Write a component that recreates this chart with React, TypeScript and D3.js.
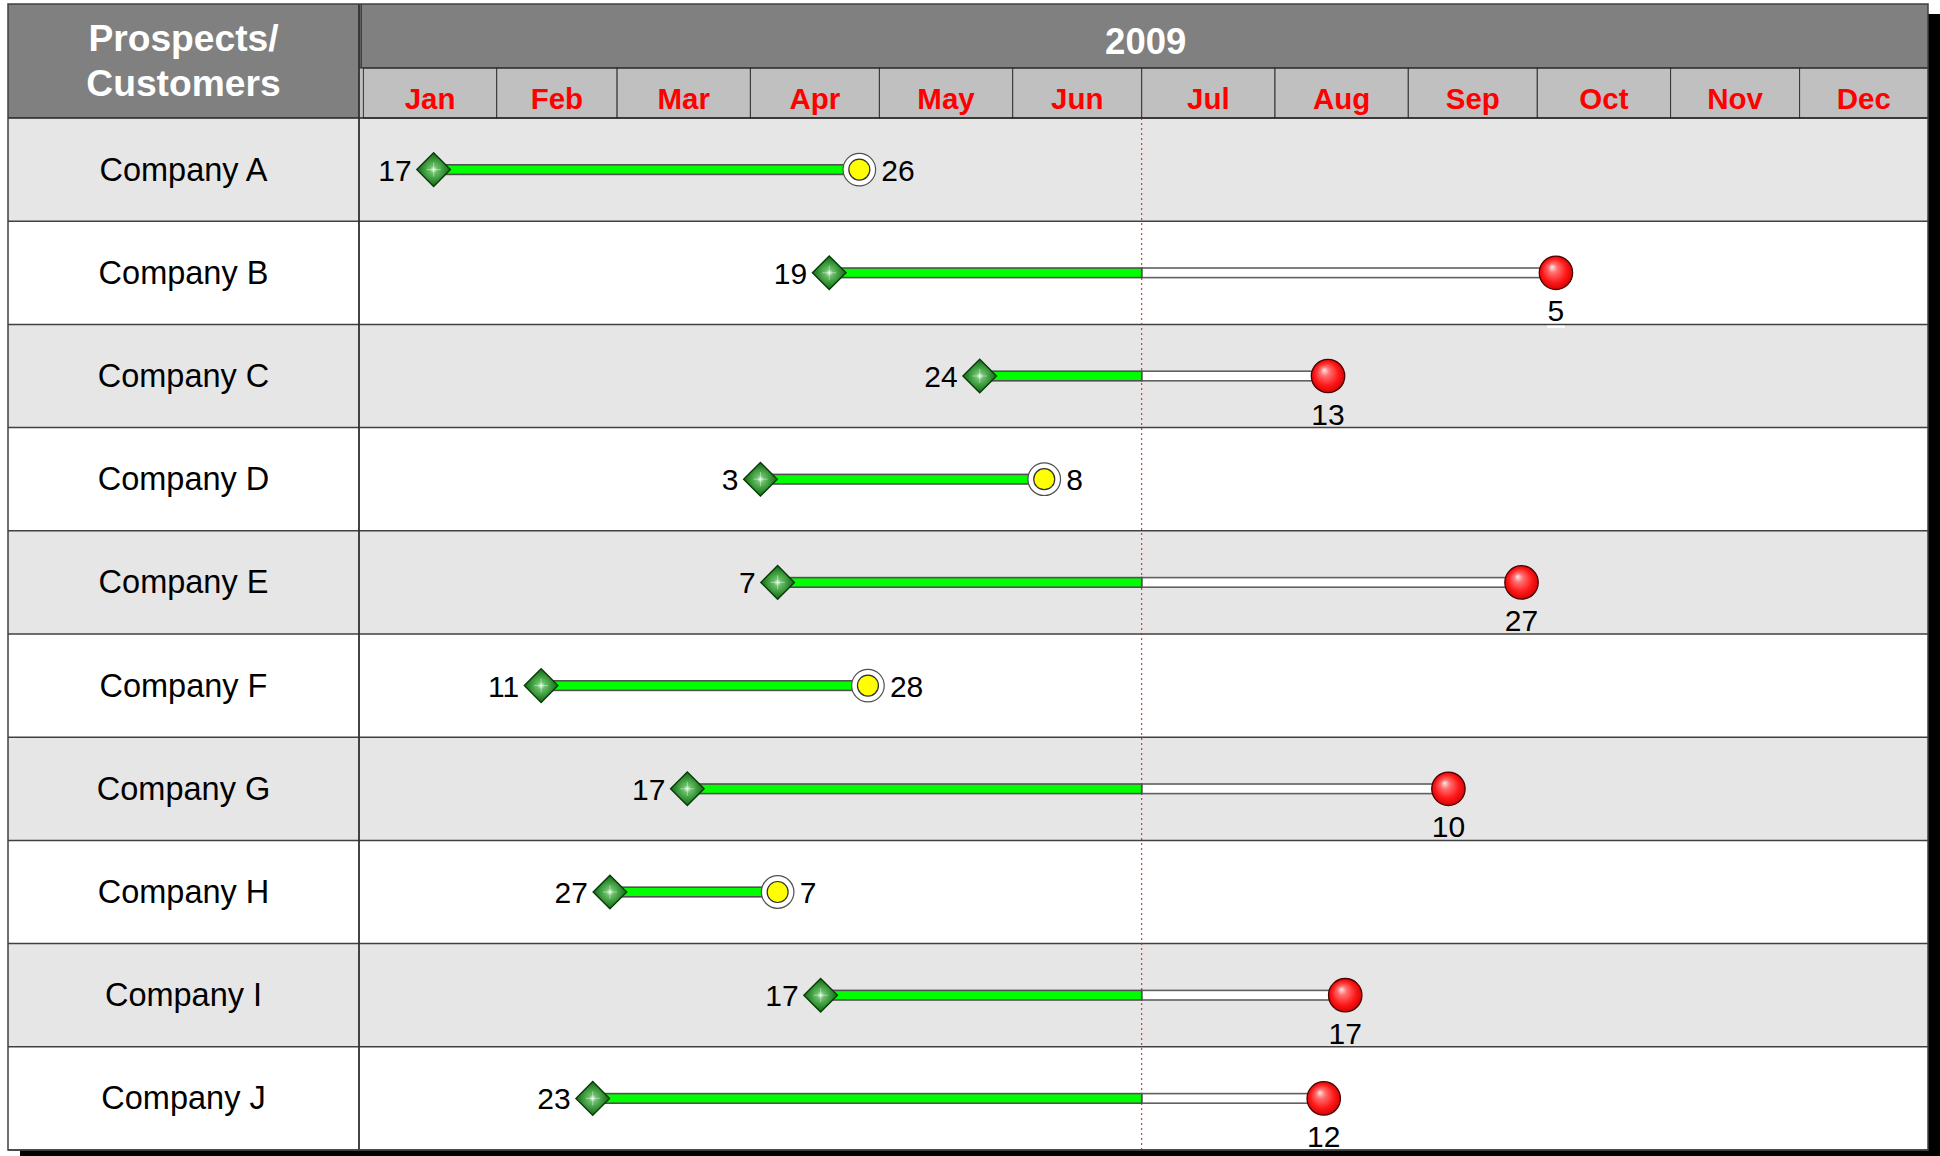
import React from "react";
import * as d3 from "d3";

const YEAR = 2009;
const months = ["Jan", "Feb", "Mar", "Apr", "May", "Jun", "Jul", "Aug", "Sep", "Oct", "Nov", "Dec"];
const companies = ["Company A", "Company B", "Company C", "Company D", "Company E", "Company F", "Company G", "Company H", "Company I", "Company J"];
const startMonth = [0, 3, 4, 3, 3, 1, 2, 1, 3, 1];
const startDay = [17, 19, 24, 3, 7, 11, 17, 27, 17, 23];
const endMonth = [3, 9, 7, 5, 8, 3, 8, 3, 7, 7];
const endDay = [26, 5, 13, 8, 27, 28, 10, 7, 17, 12];
const status = ["done", "open", "open", "done", "open", "done", "open", "done", "open", "open"];
const todayMonth = 6;
const todayDay = 1;

const W = 1940;
const H = 1156;
const L = 8, T = 4, R = 1928, B = 1150;
const colX = 359;
const tlX0 = 363.4;
const dayW = 4.3;
const bandBot = 68;
const headBot = 118;
const FONT = "'Liberation Sans', Arial, Helvetica, sans-serif";

export default function App() {
  const d0 = new Date(YEAR, 0, 1);
  const d1 = new Date(YEAR + 1, 0, 1);
  const x = d3.scaleTime().domain([d0, d1]).range([tlX0, tlX0 + 365 * dayW]);
  const y = d3.scaleBand<string>().domain(companies).range([headBot, B]);
  const rh = y.bandwidth();
  const monthStarts = d3.timeMonths(d0, d1);
  const today = new Date(YEAR, todayMonth, todayDay);
  const tx = x(today);

  const items = companies.map((c, i) => ({
    name: c,
    s: new Date(YEAR, startMonth[i], startDay[i], 8),
    e: new Date(YEAR, endMonth[i], endDay[i], 8),
    sd: startDay[i],
    ed: endDay[i],
    st: status[i],
    cy: (y(c) as number) + rh / 2,
    top: y(c) as number,
  }));

  return (
    <svg width={W} height={H} style={{ position: "absolute", left: 0, top: 0, display: "block" }} fontFamily={FONT}>
      <defs>
        <radialGradient id="gDia" cx="50%" cy="50%" r="60%">
          <stop offset="0%" stopColor="#e8ffe8" />
          <stop offset="18%" stopColor="#6cc06c" />
          <stop offset="60%" stopColor="#2a8a2a" />
          <stop offset="100%" stopColor="#0c520c" />
        </radialGradient>
        <radialGradient id="gRed" cx="50%" cy="50%" r="55%" fx="38%" fy="32%">
          <stop offset="0%" stopColor="#ffe8e8" />
          <stop offset="25%" stopColor="#ff7070" />
          <stop offset="65%" stopColor="#ff1818" />
          <stop offset="100%" stopColor="#c80000" />
        </radialGradient>
        <clipPath id="tl">
          <rect x={colX} y={T} width={R - colX} height={B - T} />
        </clipPath>
        <clipPath id="body">
          <rect x={colX} y={headBot} width={R - colX} height={B - headBot - 1} />
        </clipPath>
      </defs>
      <rect x={0} y={0} width={W} height={H} fill="#ffffff" />
      {/* shadow */}
      <rect x={L + 12} y={T + 10} width={R - L} height={B - T} fill="#000" />
      <rect x={L} y={T} width={R - L} height={B - T} fill="#fff" />

      {/* rows */}
      {items.map((d, i) => (
        <rect key={"row" + i} x={L} y={d.top} width={R - L} height={rh} fill={i % 2 === 0 ? "#e6e6e6" : "#ffffff"} />
      ))}

      {/* label boxes under red markers (visible below row border) */}
      <g clipPath="url(#body)">
        {items.map((d, i) => {
          if (d.st === "done") return null;
          const xe = x(d.e);
          const n = String(d.ed).length;
          const bw = 18 + (n - 1) * 17;
          const yb = d.top + rh + 0.5;
          return <rect key={"lb" + i} x={xe - bw / 2} y={yb} width={bw} height={d.cy + 55 - yb} fill="#ffffff" />;
        })}
      </g>

      {/* header */}
      <rect x={L} y={T} width={R - L} height={headBot - T} fill="#808080" />
      <rect x={colX} y={bandBot} width={R - colX} height={headBot - bandBot} fill="#c0c0c0" />
      <g clipPath="url(#tl)">
        {monthStarts.map((m, i) => {
          const xa = x(m);
          const xb = x(d3.timeMonth.offset(m, 1));
          return (
            <g key={"m" + i}>
              <rect x={xa} y={bandBot} width={xb - xa} height={headBot - bandBot} fill="#c0c0c0" stroke="#333" strokeWidth={1} />
              <text x={(xa + Math.min(xb, R)) / 2} y={108.5} textAnchor="middle" fontSize={29.5} fontWeight="bold" fill="#ff0000">
                {months[i]}
              </text>
            </g>
          );
        })}
      </g>
      <line x1={colX} x2={R} y1={bandBot} y2={bandBot} stroke="#222" strokeWidth={1.2} />
      <text x={(tlX0 + R) / 2} y={54} textAnchor="middle" fontSize={36.5} fontWeight="bold" fill="#ffffff">
        {YEAR}
      </text>
      <text x={(L + colX) / 2} y={51} textAnchor="middle" fontSize={37.2} fontWeight="bold" fill="#ffffff">
        Prospects/
      </text>
      <text x={(L + colX) / 2} y={95.5} textAnchor="middle" fontSize={37.2} fontWeight="bold" fill="#ffffff">
        Customers
      </text>

      {/* grid lines */}
      {items.map((d, i) => (
        <line key={"hl" + i} x1={L} x2={R} y1={d.top + rh} y2={d.top + rh} stroke="#404040" strokeWidth={1.5} />
      ))}
      <line x1={L} x2={R} y1={headBot} y2={headBot} stroke="#222" strokeWidth={1.6} />
      <line x1={colX} x2={colX} y1={T} y2={B} stroke="#303030" strokeWidth={1.8} />
      <line x1={colX + 2.2} x2={colX + 2.2} y1={T} y2={bandBot} stroke="#303030" strokeWidth={1.2} />

      {/* today line */}
      <line x1={tx} x2={tx} y1={headBot} y2={B} stroke="#ff0000" strokeWidth={1} strokeDasharray="2,3" />

      {/* company labels */}
      {items.map((d, i) => (
        <text key={"cl" + i} x={(L + colX) / 2} y={d.cy + 11} textAnchor="middle" fontSize={32.5} fill="#000">
          {d.name}
        </text>
      ))}

      {/* bars */}
      {items.map((d, i) => {
        const xs = x(d.s);
        const xe = x(d.e);
        const gEnd = Math.min(xe, tx);
        return (
          <g key={"bar" + i}>
            {xe > tx && (
              <rect x={tx} y={d.cy - 4.8} width={xe - tx} height={9.6} fill="#ffffff" stroke="#606060" strokeWidth={1.6} />
            )}
            <rect x={xs} y={d.cy - 4.8} width={gEnd - xs} height={9.6} fill="#00ff00" stroke="#505050" strokeWidth={1.6} />
          </g>
        );
      })}

      {/* markers */}
      {items.map((d, i) => {
        const xs = x(d.s);
        const xe = x(d.e);
        const r = 16.8;
        return (
          <g key={"mk" + i}>
            <path
              d={`M${xs},${d.cy - r} L${xs + r},${d.cy} L${xs},${d.cy + r} L${xs - r},${d.cy} Z`}
              fill="url(#gDia)"
              stroke="#0a3a0a"
              strokeWidth={1.4}
            />
            <path
              d={`M${xs - 7},${d.cy} L${xs + 7},${d.cy} M${xs},${d.cy - 7} L${xs},${d.cy + 7}`}
              stroke="#ffffff"
              strokeOpacity={0.55}
              strokeWidth={0.8}
            />
            <text x={xs - 22} y={d.cy + 11} textAnchor="end" fontSize={30} fill="#000">
              {d.sd}
            </text>
            {d.st === "done" ? (
              <g>
                <circle cx={xe} cy={d.cy} r={16.3} fill="#ffffff" stroke="#505050" strokeWidth={1.2} />
                <circle cx={xe} cy={d.cy} r={10.5} fill="#ffff00" stroke="#303030" strokeWidth={1.2} />
                <text x={xe + 22} y={d.cy + 11} textAnchor="start" fontSize={30} fill="#000">
                  {d.ed}
                </text>
              </g>
            ) : (
              <g>
                <circle cx={xe} cy={d.cy} r={16.7} fill="url(#gRed)" stroke="#4a0000" strokeWidth={1.3} />
                <text x={xe} y={d.cy + 48.5} textAnchor="middle" fontSize={30} fill="#000">
                  {d.ed}
                </text>
              </g>
            )}
          </g>
        );
      })}

      {/* outer border */}
      <rect x={L} y={T} width={R - L} height={B - T} fill="none" stroke="#404040" strokeWidth={1.5} />
    </svg>
  );
}
